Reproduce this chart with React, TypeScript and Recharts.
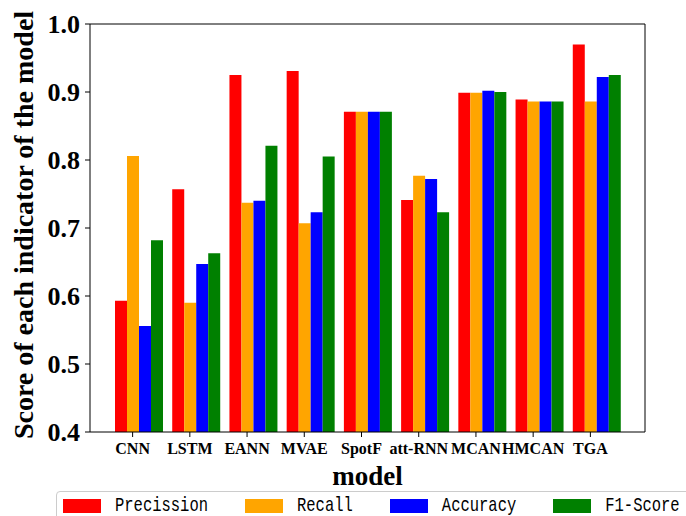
import {Bar, BarChart, CartesianGrid, Label, Legend, XAxis, YAxis} from 'recharts';

const models = ['CNN', 'LSTM', 'EANN', 'MVAE', 'SpotF', 'att-RNN', 'MCAN', 'HMCAN', 'TGA'];
const precission = [0.593, 0.757, 0.925, 0.931, 0.871, 0.741, 0.899, 0.889, 0.970];
const recall = [0.806, 0.590, 0.737, 0.707, 0.871, 0.777, 0.899, 0.886, 0.886];
const accuracy = [0.556, 0.647, 0.740, 0.723, 0.871, 0.772, 0.902, 0.886, 0.922];
const f1Score = [0.682, 0.663, 0.821, 0.805, 0.871, 0.723, 0.900, 0.886, 0.925];
const yTicks = [0.4, 0.5, 0.6, 0.7, 0.8, 0.9, 1.0];

const series = [
    {key: 'precission', name: 'Precission', color: '#ff0000'},
    {key: 'recall', name: 'Recall', color: '#ffa500'},
    {key: 'accuracy', name: 'Accuracy', color: '#0000ff'},
    {key: 'f1Score', name: 'F1-Score', color: '#008000'}
];

const data = models.map((model, i) => ({
    model,
    precission: precission[i],
    recall: recall[i],
    accuracy: accuracy[i],
    f1Score: f1Score[i]
}));

const serif = '"Liberation Serif", "Times New Roman", serif';

// matplotlib puts the tick under the 2nd bar, not the group centre
const ModelTick = ({x, y, payload}: any) => (
    <g transform={`translate(${x - 6},${y})`}>
        <line x1={0} y1={0} x2={0} y2={5} stroke="#000"/>
        <text x={0} y={22} textAnchor="middle" fontFamily={serif} fontWeight="bold" fontSize={16} fill="#000">
            {payload.value}
        </text>
    </g>
);

const LegendBox = ({payload}: any) => {
    const order = series.map(s => s.name);
    const items = [...(payload || [])].sort((a: any, b: any) => order.indexOf(a.value) - order.indexOf(b.value));
    return (
        <div style={{
            display: 'flex', alignItems: 'center', height: 30, border: '1px solid #ccc',
            borderRadius: 4, paddingLeft: 6, background: '#fff', whiteSpace: 'nowrap', boxSizing: 'border-box'
        }}>
            {items.map((entry: any) => (
                <div key={entry.value} style={{display: 'flex', alignItems: 'center', marginRight: 37}}>
                    <span style={{display: 'inline-block', width: 38, height: 14, background: entry.color, marginRight: 14}}/>
                    <span style={{
                        display: 'inline-block', fontFamily: '"Liberation Mono", monospace', fontSize: 15.5,
                        color: '#000', transform: 'scaleY(1.25)'
                    }}>
                        {entry.value}
                    </span>
                </div>
            ))}
        </div>
    );
};

const App = () => {
    return (
        <div style={{position: 'absolute', left: 0, top: 0, width: 686, height: 516, overflow: 'hidden', background: '#fff'}}>
            <BarChart
                width={686}
                height={516}
                data={data}
                margin={{top: 24, right: 41, left: 0, bottom: 54}}
                barGap={0}
                barCategoryGap={5}
            >
                {/* top and right spines of the frame */}
                <CartesianGrid
                    stroke="#000"
                    strokeOpacity={1}
                    horizontalCoordinatesGenerator={({offset}: any) => [offset.top]}
                    verticalCoordinatesGenerator={({offset}: any) => [offset.left + offset.width]}
                />
                <XAxis
                    dataKey="model"
                    height={30}
                    padding={{left: 20, right: 20}}
                    stroke="#000"
                    tickLine={false}
                    tickSize={0}
                    tickMargin={0}
                    tick={<ModelTick/>}
                    interval={0}
                >
                    <Label
                        content={({viewBox}: any) => (
                            <text x={viewBox.x + viewBox.width / 2} y={viewBox.y + 53} textAnchor="middle"
                                  fontFamily={serif} fontWeight="bold" fontSize={27} fill="#000">
                                model
                            </text>
                        )}
                    />
                </XAxis>
                <YAxis
                    width={90}
                    domain={[0.4, 1.0]}
                    ticks={yTicks}
                    allowDataOverflow
                    stroke="#000"
                    tickSize={5}
                    tickMargin={5}
                    tickFormatter={(v: number) => v.toFixed(1)}
                    tick={{fill: '#000', fontFamily: serif, fontWeight: 'bold', fontSize: 26}}
                >
                    <Label
                        content={({viewBox}: any) => {
                            const cx = 33;
                            const cy = viewBox.y + viewBox.height / 2 - 3;
                            return (
                                <text x={cx} y={cy} transform={`rotate(-90, ${cx}, ${cy})`} textAnchor="middle"
                                      fontFamily={serif} fontWeight="bold" fontSize={28} fill="#000">
                                    Score of each indicator of the model
                                </text>
                            );
                        }}
                    />
                </YAxis>
                <Legend
                    layout="horizontal"
                    verticalAlign="middle"
                    align="center"
                    content={<LegendBox/>}
                    wrapperStyle={{left: 56, top: 491, width: 700}}
                />
                {series.map(s => (
                    <Bar key={s.key} dataKey={s.key} name={s.name} fill={s.color} isAnimationActive={false}/>
                ))}
            </BarChart>
        </div>
    );
};

export default App;
